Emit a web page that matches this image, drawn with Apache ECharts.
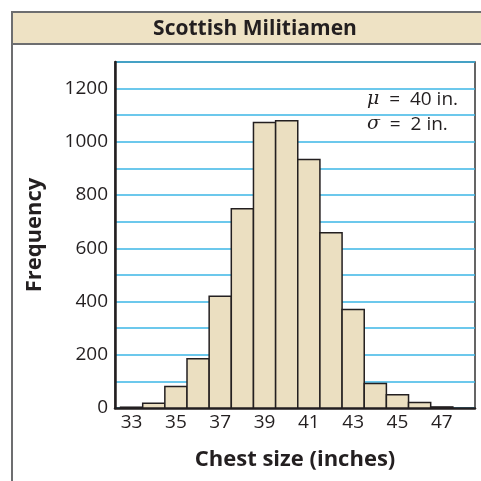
<!DOCTYPE html>
<html>
<head>
<meta charset="utf-8">
<script src="https://cdn.jsdelivr.net/npm/echarts@6/dist/echarts.min.js"></script>
<style>
  html, body { margin: 0; padding: 0; background: #fff; }
  #grafico { width: 481px; height: 481px; }
</style>
</head>
<body>
<div id="grafico"></div>
<script>
// datos
const tallas = [33, 34, 35, 36, 37, 38, 39, 40, 41, 42, 43, 44, 45, 46, 47];
const frecuencias = [3, 18, 81, 185, 420, 749, 1073, 1079, 934, 658, 370, 92, 50, 21, 4];
const etiquetasX = [33, 35, 37, 39, 41, 43, 45, 47];
const etiquetasY = [0, 200, 400, 600, 800, 1000, 1200];

const fuente = "'Open Sans', 'Noto Sans', sans-serif";
const texto = "#231f20";
const beige = "#ebdfc1";
const azul = "#3bb6e6";

const contenedor = document.getElementById("grafico");
const miGrafico = echarts.init(contenedor, null, { renderer: "canvas" });

const datos = tallas.map((t, i) => [t, frecuencias[i]]);

const opciones = {
    animation: false,
    title: {
        text: "Scottish Militiamen",
        left: 250,
        top: 14,
        textAlign: "center",
        textStyle: { fontFamily: fuente, fontSize: 21, fontWeight: "bold", color: texto }
    },
    grid: {
        left: 115, top: 62, right: 6, bottom: 73,
        show: true, borderColor: "#333", borderWidth: 1.5, backgroundColor: "transparent"
    },
    xAxis: {
        type: "value",
        min: 32.25,
        max: 48.5,
        name: "Chest size (inches)",
        nameLocation: "middle",
        nameGap: 41,
        nameTextStyle: { fontFamily: fuente, fontSize: 22, fontWeight: "bold", color: texto },
        axisLine: { show: true, onZero: false, lineStyle: { color: texto, width: 2.5 } },
        axisTick: { show: false },
        splitLine: { show: false },
        axisLabel: {
            customValues: etiquetasX,
            margin: 5,
            formatter: (v) => String(v),
            fontFamily: fuente, fontSize: 19, color: texto
        }
    },
    yAxis: {
        type: "value",
        min: 0,
        max: 1300,
        interval: 100,
        name: "Frequency",
        nameLocation: "middle",
        nameGap: 69,
        nameTextStyle: { fontFamily: fuente, fontSize: 22, fontWeight: "bold", color: texto },
        axisLine: { show: true, lineStyle: { color: texto, width: 2.5 } },
        axisTick: { show: false },
        splitLine: { show: true, lineStyle: { color: azul, width: 1.5 } },
        axisLabel: {
            customValues: etiquetasY,
            margin: 7,
            formatter: (v) => String(v),
            fontFamily: fuente, fontSize: 19, color: texto
        }
    },
    series: [
        {
            type: "custom",
            data: datos,
            encode: { x: 0, y: 1 },
            renderItem: function (params, api) {
                const arriba = api.coord([api.value(0) - 0.5, api.value(1)]);
                const abajo = api.coord([api.value(0) + 0.5, 0]);
                return {
                    type: "rect",
                    shape: {
                        x: arriba[0],
                        y: arriba[1],
                        width: abajo[0] - arriba[0],
                        height: abajo[1] - arriba[1]
                    },
                    style: { fill: beige, stroke: texto, lineWidth: 1.5 }
                };
            }
        }
    ],
    graphic: [
        {
            type: "rect",
            z: -1,
            shape: { x: 12, y: 12, width: 480, height: 32 },
            style: { fill: "#eee2c4", stroke: "#6d6e70", lineWidth: 2 }
        },
        {
            type: "line",
            z: -1,
            shape: { x1: 12, y1: 44, x2: 12, y2: 481 },
            style: { stroke: "#6d6e70", lineWidth: 2 }
        },
        {
            type: "text",
            left: 367,
            top: 90,
            style: {
                text: "{g|μ}  =  40 in.",
                fontFamily: fuente, fontSize: 19, fill: texto,
                rich: { g: { fontFamily: "'DejaVu Serif', serif", fontStyle: "italic", fontSize: 19, fill: texto } }
            }
        },
        {
            type: "text",
            left: 367,
            top: 115,
            style: {
                text: "{g|σ}  =  2 in.",
                fontFamily: fuente, fontSize: 19, fill: texto,
                rich: { g: { fontFamily: "'DejaVu Serif', serif", fontStyle: "italic", fontSize: 19, fill: texto } }
            }
        }
    ]
};

miGrafico.setOption(opciones);
</script>
</body>
</html>
